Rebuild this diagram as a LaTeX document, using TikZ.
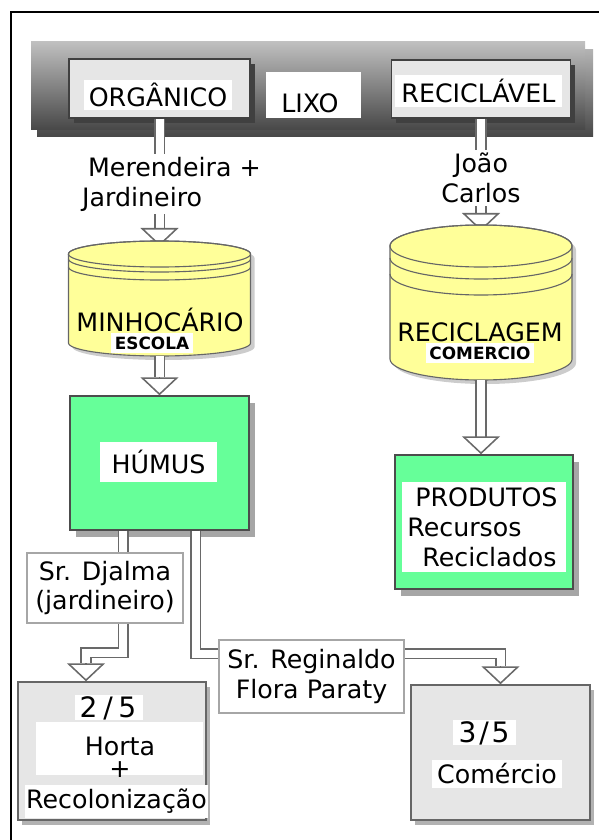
\documentclass[tikz,border=0pt]{standalone}
\usepackage{fontspec}
\setmainfont{DejaVu Sans}
\usetikzlibrary{arrows.meta,shadows}

\definecolor{humusgreen}{RGB}{102,255,153}
\definecolor{cylyellow}{RGB}{255,255,153}
\definecolor{boxgray}{RGB}{230,230,230}
\definecolor{pipegray}{RGB}{105,105,105}

\tikzset{
	big/.style={font=\fontsize{18}{21.3}\selectfont},
	smalltag/.style={font=\fontsize{12}{14}\selectfont\bfseries, fill=white, inner sep=2.5pt},
	txtbg/.style={fill=white, inner sep=0pt},
	pipe/.style={draw=pipegray, line width=1.1pt, double=white, double distance=0.2cm},
	hollowtip/.style={draw=pipegray, line width=1.1pt, -{Triangle[fill=white, width=0.95cm, length=0.45cm]}},
	keybox/.style={draw=black!75, fill=boxgray, line width=1pt, drop shadow={shadow xshift=0.12cm, shadow yshift=-0.12cm, fill=black!75, opacity=1}},
	greenbox/.style={draw=black!70, fill=humusgreen, line width=1pt, drop shadow={shadow xshift=0.15cm, shadow yshift=-0.18cm, fill=black!35, opacity=1}},
	restbox/.style={draw=black!60, fill=boxgray, line width=1pt, drop shadow={shadow xshift=0.1cm, shadow yshift=-0.12cm, fill=black!30, opacity=1}},
	namebox/.style={draw=black!35, fill=white, line width=1.2pt, big, align=center, inner sep=2pt},
	cylline/.style={draw=black!60, line width=0.8pt}
}

\begin{document}
\begin{tikzpicture}[x=0.025cm, y=-0.025cm]
	\useasboundingbox (0,0) rectangle (599,840);
	\draw[line width=1.5pt] (11,840) -- (11,12) -- (599,12);

	% LIXO bar
	\shade[top color=black!30, bottom color=black!72] (37,50) rectangle (593,137);
	\shade[top color=black!25, middle color=black!45, bottom color=black!72] (31,42) rectangle (585,130);
	\node[keybox, minimum width=4.525cm, minimum height=1.475cm] (org) at (159.5,88.5) {};
	\node[txtbg, big, minimum width=3.7cm, minimum height=0.75cm] (orgtxt) at (158,95) {ORGÂNICO};
	\node[fill=white, minimum width=2.375cm, minimum height=1.15cm] (lixo) at (313.5,95) {};
	\node[big] (lixotxt) at (310,103) {LIXO};
	\node[keybox, minimum width=4.475cm, minimum height=1.45cm] (recic) at (481,89) {};
	\node[txtbg, big, minimum width=4.175cm, minimum height=0.8cm] (recictxt) at (478.5,91) {RECICLÁVEL};

	\node[big, align=left, anchor=north west, inner sep=2pt] (merend) at (79,154) {\hspace*{0.15cm}Merendeira +\\Jardineiro};
	\node[big, align=center, inner sep=2pt] (joao) at (481,178) {João\\Carlos};

	\draw[pipe] (org.south) -- (org.south |- merend.north);
	\coordinate (mtip) at (159.5,228);
	\coordinate (mtop) at (159.5,246);
	\draw[pipe] (org.south |- merend.south) -- (mtip);
	\draw[hollowtip] (mtip) -- (mtop);
	\draw[pipe] (recic.south) -- (recic.south |- joao.north);
	\coordinate (rtip) at (481,213);
	\coordinate (rtop) at (481,231);
	\draw[pipe] (recic.south |- joao.south) -- (rtip);
	\draw[hollowtip] (rtip) -- (rtop);

	% MINHOCARIO drum
	\fill[black!20, xshift=0.1cm, yshift=-0.1cm] (68.5,254) -- (68.5,343) arc[start angle=180, end angle=360, x radius=2.275cm, y radius=0.325cm] -- (250.5,254) arc[start angle=0, end angle=180, x radius=2.275cm, y radius=0.325cm] -- cycle;
	\filldraw[cylline, fill=cylyellow] (68.5,254) -- (68.5,343) arc[start angle=180, end angle=360, x radius=2.275cm, y radius=0.325cm] -- (250.5,254) arc[start angle=0, end angle=180, x radius=2.275cm, y radius=0.325cm] -- cycle;
	\draw[cylline] (159.5,254) ellipse [x radius=2.275cm, y radius=0.325cm];
	\draw[cylline] (68.5,259) arc[start angle=180, end angle=360, x radius=2.275cm, y radius=0.325cm];
	\draw[cylline] (68.5,267) arc[start angle=180, end angle=360, x radius=2.275cm, y radius=0.325cm];
	\node[big] (minho) at (160,320) {MINHOCÁRIO};
	\node[smalltag] (escola) at (152,343) {ESCOLA};
	\coordinate (mbot) at (159.5,356);

	% RECICLAGEM drum
	\fill[black!20, xshift=0.1cm, yshift=-0.1cm] (390,246) -- (390,359) arc[start angle=180, end angle=360, x radius=2.275cm, y radius=0.525cm] -- (572,246) arc[start angle=0, end angle=180, x radius=2.275cm, y radius=0.525cm] -- cycle;
	\filldraw[cylline, fill=cylyellow] (390,246) -- (390,359) arc[start angle=180, end angle=360, x radius=2.275cm, y radius=0.525cm] -- (572,246) arc[start angle=0, end angle=180, x radius=2.275cm, y radius=0.525cm] -- cycle;
	\draw[cylline] (481,246) ellipse [x radius=2.275cm, y radius=0.525cm];
	\draw[cylline] (390,258) arc[start angle=180, end angle=360, x radius=2.275cm, y radius=0.525cm];
	\draw[cylline] (390,274) arc[start angle=180, end angle=360, x radius=2.275cm, y radius=0.525cm];
	\node[big] (recl) at (480,332) {RECICLAGEM};
	\node[smalltag] (comerc) at (480,353) {COMERCIO};
	\coordinate (rbot) at (481,380);

	% HUMUS and PRODUTOS
	\node[greenbox, minimum width=4.475cm, minimum height=3.35cm] (humus) at (159.5,463) {};
	\node[txtbg, big, minimum width=2.925cm, minimum height=1cm] (humustxt) at (158.5,462) {HÚMUS};
	\coordinate (mhead) at ([yshift=0.45cm]humus.north);
	\draw[pipe] (mbot) -- (mhead);
	\draw[hollowtip] (mhead) -- (humus.north);

	\node[greenbox, minimum width=4.45cm, minimum height=3.35cm] (produtos) at (484,522) {};
	\node[txtbg, minimum width=4.1cm, minimum height=2.25cm] (prodbg) at (484,527) {};
	\node[big, align=left, anchor=west, inner sep=0pt] (prodtxt) at (407,527) {\hspace*{0.2cm}PRODUTOS\\Recursos\\\hspace*{0.375cm}Reciclados};
	\coordinate (rhead) at (481,437);
	\draw[pipe] (rbot) -- (rhead);
	\draw[hollowtip] (rhead) -- (rhead |- produtos.north);

	% who takes the humus
	\node[namebox, minimum width=3.9cm, minimum height=1.75cm] (djalma) at (105,588) {Sr. Djalma\\(jardineiro)};
	\node[namebox, minimum width=4.625cm, minimum height=1.825cm] (regin) at (311.5,676.5) {Sr. Reginaldo\\Flora Paraty};

	\node[restbox, minimum width=4.7cm, minimum height=3.45cm] (two) at (112,751) {};
	\node[txtbg, minimum width=1.7cm, minimum height=0.625cm] (twobg) at (109,707.5) {};
	\node[font=\fontsize{20}{24}\selectfont] (twotxt) at (108,708) {2\kern4pt/\kern4pt5};
	\node[txtbg, minimum width=4.175cm, minimum height=1.325cm] (hortabg) at (119.5,748.5) {};
	\node[big] (horta) at (120,746) {Horta};
	\node[big] (plus) at (120,770) {+};
	\node[txtbg, big, minimum width=4.575cm, minimum height=0.825cm] (recol) at (116.5,801.5) {Recolonização};

	\node[restbox, minimum width=4.475cm, minimum height=3.375cm] (three) at (500.5,752.5) {};
	\node[txtbg, minimum width=1.575cm, minimum height=0.625cm] (threebg) at (484.5,732.5) {};
	\node[font=\fontsize{20}{24}\selectfont] (threetxt) at (484,733) {3\kern2pt/\kern2pt5};
	\node[txtbg, big, minimum width=3.25cm, minimum height=0.7cm] (comercio) at (497,774) {Comércio};

	\coordinate (hl) at ([xshift=-0.9cm]humus.south);
	\coordinate (hr) at ([xshift=0.9cm]humus.south);
	\draw[pipe] (hl) -- (hl |- djalma.north);
	\coordinate (t2) at ([xshift=-0.65cm, yshift=0.45cm]two.north);
	\draw[pipe] (hl |- djalma.south) -- ++(0,29) -| (t2);
	\draw[hollowtip] (t2) -- (t2 |- two.north);
	\draw[pipe] (hr) |- ([yshift=0.575cm]regin.west);
	\coordinate (t3) at ([yshift=0.45cm]three.north);
	\draw[pipe] ([yshift=0.575cm]regin.east) -| (t3);
	\draw[hollowtip] (t3) -- (three.north);
\end{tikzpicture}
\end{document}
